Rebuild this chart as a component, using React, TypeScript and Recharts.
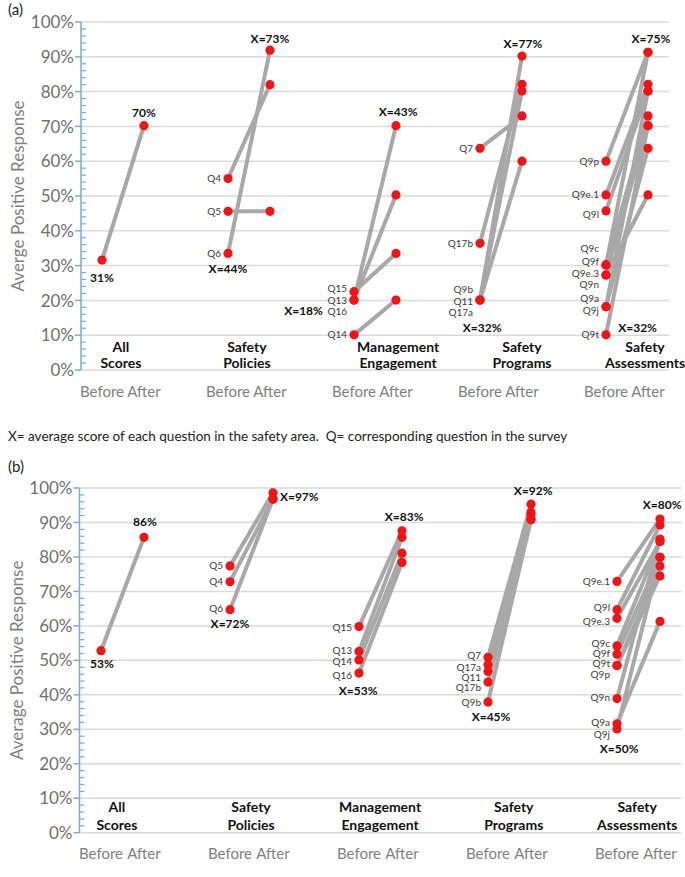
import React from "react";
import { ScatterChart, Scatter, XAxis, YAxis, CartesianGrid, Label } from "recharts";

// shared categories
const groupTop = ["All", "Safety", "Management", "Safety", "Safety"];
const groupBottom = ["Scores", "Policies", "Engagement", "Programs", "Assessments"];
const sideLabels = ["Before", "After"];
const xTicks = [0.5, 1.5, 3.5, 4.5, 6.5, 7.5, 9.5, 10.5, 12.5, 13.5];
const majorTicks = [0, 10, 20, 30, 40, 50, 60, 70, 80, 90, 100];
const yTicks = [
  0, 2, 4, 6, 8, 10, 12, 14, 16, 18, 20, 22, 24, 26, 28, 30, 32, 34, 36, 38, 40, 42, 44, 46, 48, 50,
  52, 54, 56, 58, 60, 62, 64, 66, 68, 70, 72, 74, 76, 78, 80, 82, 84, 86, 88, 90, 92, 94, 96, 98, 100,
];

// panel (a) - before the program
const aQuestions = [
  [""],
  ["Q4", "Q5", "Q6"],
  ["Q15", "Q13", "Q16", "Q14"],
  ["Q7", "Q17b", "Q9b", "Q11", "Q17a"],
  ["Q9p", "Q9e.1", "Q9l", "Q9c", "Q9f", "Q9e.3", "Q9n", "Q9a", "Q9j", "Q9t"],
];
const aBefore = [
  [31.6],
  [55, 45.6, 33.5],
  [22.5, 20.1, 20.1, 10.1],
  [63.7, 36.4, 20.1, 20.1, 20.1],
  [60, 50.3, 45.7, 30.2, 30.2, 27.3, 27.3, 18.2, 18.2, 10.1],
];
const aAfter = [
  [70.2],
  [82, 45.6, 91.9],
  [33.5, 70.2, 50.3, 20.1],
  [73, 82.1, 90.2, 80.2, 60],
  [91.3, 82.1, 80.2, 91.3, 73, 70.2, 50.3, 80.2, 63.7, 70.2],
];
const aLabelY = [
  [],
  [55, 45.6, 33.5],
  [23.3, 20.1, 16.8, 10.1],
  [63.7, 36.4, 23, 19.8, 16.6],
  [60, 50.3, 44.8, 34.8, 31.2, 27.7, 24.5, 20.6, 17, 10.1],
];
const aNotes = [
  { text: "70%", x: 1.5, y: 73.8, anchor: "middle" },
  { text: "31%", x: 0.5, y: 26.5, anchor: "middle" },
  { text: "X=73%", x: 4.5, y: 95.1, anchor: "middle" },
  { text: "X=44%", x: 3.5, y: 29, anchor: "middle" },
  { text: "X=43%", x: 7.55, y: 74.2, anchor: "middle" },
  { text: "X=18%", x: 5.76, y: 17, anchor: "end" },
  { text: "X=77%", x: 10.52, y: 93.7, anchor: "middle" },
  { text: "X=32%", x: 9.55, y: 12.1, anchor: "middle" },
  { text: "X=75%", x: 13.57, y: 95.1, anchor: "middle" },
  { text: "X=32%", x: 12.79, y: 12.1, anchor: "start" },
];
const aGroupX = [0.95, 3.95, 7.55, 10.5, 13.43];
const aGroupY = [6.6, 2.0];

// panel (b) - after the program
const bQuestions = [
  [""],
  ["Q5", "Q4", "Q6"],
  ["Q15", "Q13", "Q14", "Q16"],
  ["Q7", "Q17a", "Q11", "Q17b", "Q9b"],
  ["Q9e.1", "Q9l", "Q9e.3", "Q9c", "Q9f", "Q9t", "Q9p", "Q9n", "Q9a", "Q9j"],
];
const bBefore = [
  [52.8],
  [77.4, 72.8, 64.7],
  [59.8, 52.6, 50.1, 46.3],
  [50.9, 48.7, 46.8, 43.7, 37.9],
  [72.9, 64.7, 62.2, 54.2, 51.8, 48.5, 48.5, 38.9, 31.6, 30.1],
];
const bAfter = [
  [85.7],
  [98.6, 96.8, 96.8],
  [87.6, 85.7, 81.1, 78.4],
  [95.3, 93, 92.2, 91, 90.8],
  [91, 89.3, 84.5, 84.5, 79.9, 77.4, 74.5, 85.2, 61.3, 79.9],
];
const bLabelY = [
  [],
  [77.4, 72.8, 64.9],
  [59.5, 53, 49.7, 45.6],
  [51.3, 48, 45, 42, 37.9],
  [72.9, 65.2, 61.4, 55, 52, 49, 46, 39.2, 31.9, 28.5],
];
const bNotes = [
  { text: "86%", x: 1.52, y: 90.3, anchor: "middle" },
  { text: "53%", x: 0.52, y: 48.9, anchor: "middle" },
  { text: "X=97%", x: 4.66, y: 97.4, anchor: "start" },
  { text: "X=72%", x: 3.5, y: 60.6, anchor: "middle" },
  { text: "X=53%", x: 6.48, y: 41.1, anchor: "middle" },
  { text: "X=83%", x: 7.55, y: 91.6, anchor: "middle" },
  { text: "X=45%", x: 9.57, y: 33.5, anchor: "middle" },
  { text: "X=92%", x: 10.55, y: 99.3, anchor: "middle" },
  { text: "X=80%", x: 13.55, y: 95.2, anchor: "middle" },
  { text: "X=50%", x: 12.55, y: 24.2, anchor: "middle" },
];
const bGroupX = [0.87, 3.99, 6.99, 10.1, 12.97];
const bGroupY = [7.5, 2.2];

const FONT = "Lato, 'Open Sans', sans-serif";
const AXIS_BLUE = "#7aaad6";

const Empty = () => <g />;

const Dot = (p: any) => <circle cx={p.cx} cy={p.cy} r={4.6} fill="#f21414" />;

const QText = (p: any) => (
  <text x={p.cx - 7} y={p.cy} dy="0.35em" textAnchor="end" fontSize={10} fill="#3a3a3a" fontFamily={FONT}>
    {p.payload.text}
  </text>
);

const BoldText = (p: any) => (
  <text
    x={p.cx}
    y={p.cy}
    dy="0.35em"
    textAnchor={p.payload.anchor || "middle"}
    fontSize={p.payload.size || 12}
    fontWeight="bold"
    fill="#111"
    fontFamily={FONT}
  >
    {p.payload.text}
  </text>
);

const YTick = (p: any) => {
  const { x, y, payload } = p;
  const v = payload.value;
  if (v % 10 === 0) {
    return (
      <g>
        <line x1={x - 6} x2={x} y1={y} y2={y} stroke={AXIS_BLUE} strokeWidth={1.5} />
        <text x={x - 7} y={y} dy="0.36em" textAnchor="end" fontSize={17} fill="#6f6f6f" fontFamily={FONT}>
          {v}%
        </text>
      </g>
    );
  }
  return <line x1={x} x2={x + 5} y1={y} y2={y} stroke={AXIS_BLUE} strokeWidth={1.2} />;
};

type PanelProps = {
  questions: string[][];
  before: number[][];
  after: number[][];
  labelY: number[][];
  notes: { text: string; x: number; y: number; anchor: string }[];
  groupX: number[];
  groupY: number[];
  height: number;
  margin: { top: number; right: number; bottom: number; left: number };
  yAxisWidth: number;
  xAxisHeight: number;
  yTitle: string;
};

function Panel(props: PanelProps) {
  const { questions, before, after, labelY, notes, groupX, groupY } = props;
  const pairs: { x: number; y: number }[][] = [];
  const qLabels: { x: number; y: number; text: string }[] = [];
  questions.forEach((qs, g) => {
    qs.forEach((q, i) => {
      pairs.push([
        { x: 3 * g + 0.5, y: before[g][i] },
        { x: 3 * g + 1.5, y: after[g][i] },
      ]);
      if (q) qLabels.push({ x: 3 * g + 0.5, y: labelY[g][i], text: q });
    });
  });
  const groupLabels = [
    ...groupTop.map((t, g) => ({ x: groupX[g], y: groupY[0], text: t, size: 14 })),
    ...groupBottom.map((t, g) => ({ x: groupX[g], y: groupY[1], text: t, size: 14 })),
  ];

  return (
    <ScatterChart width={685} height={props.height} margin={props.margin}>
      <CartesianGrid vertical={false} horizontalValues={majorTicks} stroke="#dadada" strokeWidth={1.5} />
      <XAxis
        type="number"
        dataKey="x"
        domain={[0, 14]}
        ticks={xTicks}
        interval={0}
        tickFormatter={(_v: number, i: number) => sideLabels[i % 2]}
        axisLine={false}
        tickLine={false}
        tickSize={0}
        tickMargin={16}
        height={props.xAxisHeight}
        tick={{ fill: "#7f7f7f", fontSize: 15, fontFamily: FONT }}
      />
      <YAxis
        type="number"
        dataKey="y"
        domain={[0, 100]}
        ticks={yTicks}
        interval={0}
        tick={(p: any) => <YTick {...p} />}
        tickLine={false}
        tickSize={0}
        tickMargin={0}
        width={props.yAxisWidth}
        axisLine={{ stroke: AXIS_BLUE, strokeWidth: 1.5 }}
      >
        <Label
          value={props.yTitle}
          angle={-90}
          position="center"
          dx={-23}
          fill="#7f7f7f"
          fontSize={17}
          fontFamily={FONT}
        />
      </YAxis>
      {pairs.map((d, k) => (
        <Scatter
          key={"l" + k}
          data={d}
          line={{ stroke: "#a8a8a8", strokeWidth: 4 }}
          shape={Empty}
          isAnimationActive={false}
        />
      ))}
      {pairs.map((d, k) => (
        <Scatter key={"d" + k} data={d} shape={Dot} isAnimationActive={false} />
      ))}
      <Scatter data={qLabels} shape={QText} isAnimationActive={false} />
      <Scatter data={notes} shape={BoldText} isAnimationActive={false} />
      <Scatter data={groupLabels} shape={BoldText} isAnimationActive={false} />
    </ScatterChart>
  );
}

export default function App() {
  return (
    <div
      style={{
        position: "absolute",
        left: 0,
        top: 0,
        width: 685,
        height: 877,
        background: "#fff",
        fontFamily: FONT,
        color: "#222",
      }}
    >
      <div style={{ position: "absolute", left: 0, top: 0 }}>
        <Panel
          questions={aQuestions}
          before={aBefore}
          after={aAfter}
          labelY={aLabelY}
          notes={aNotes}
          groupX={aGroupX}
          groupY={aGroupY}
          height={410}
          margin={{ top: 22, right: 16, bottom: 0, left: 0 }}
          yAxisWidth={81}
          xAxisHeight={40}
          yTitle="Averge Positive Response"
        />
      </div>
      <div style={{ position: "absolute", left: 8, top: 1, fontSize: 15, lineHeight: "16px" }}>(a)</div>
      <div style={{ position: "absolute", left: 8, top: 427, fontSize: 13.5, lineHeight: "18px", whiteSpace: "pre" }}>
        {"X= average score of each question in the safety area.  Q= corresponding question in the survey"}
      </div>
      <div style={{ position: "absolute", left: 0, top: 466 }}>
        <Panel
          questions={bQuestions}
          before={bBefore}
          after={bAfter}
          labelY={bLabelY}
          notes={bNotes}
          groupX={bGroupX}
          groupY={bGroupY}
          height={400}
          margin={{ top: 22, right: 3.5, bottom: 0, left: 0 }}
          yAxisWidth={79.5}
          xAxisHeight={33.3}
          yTitle="Average Positive Response"
        />
      </div>
      <div style={{ position: "absolute", left: 8, top: 458, fontSize: 15, lineHeight: "16px" }}>(b)</div>
    </div>
  );
}
